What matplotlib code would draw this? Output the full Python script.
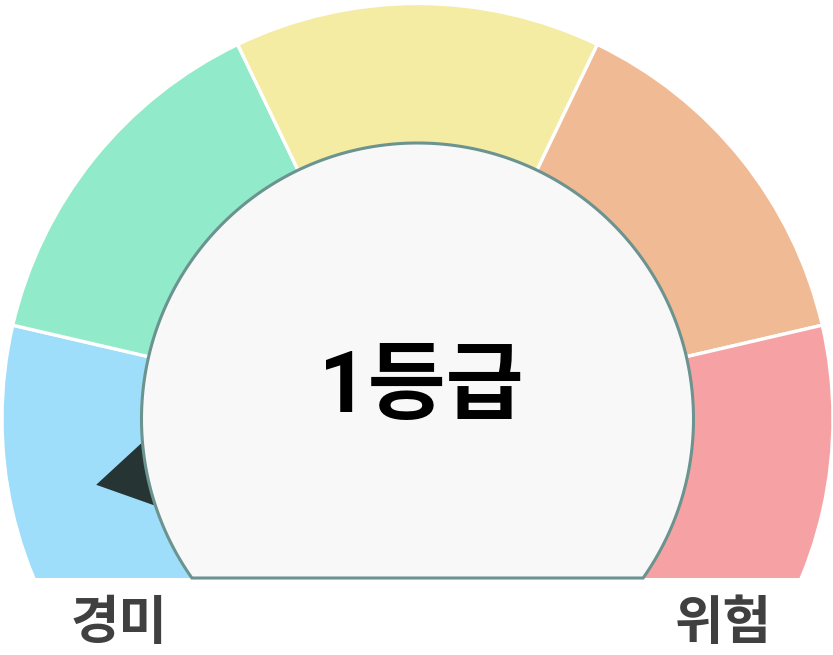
import numpy as np
import matplotlib
matplotlib.use('Agg')
import matplotlib.pyplot as plt
from matplotlib.patches import Wedge, Polygon, Rectangle

# gauge data
grade_text = '1등급'
min_label = '경미'
max_label = '위험'
segment_sizes = [1, 1, 1, 1, 1]
segment_colors = ['#9EDEFA', '#91EBCB', '#F4ECA3', '#F0BA94', '#F6A2A5']
needle_value = 10.4   # on a 0-100 scale
value_max = 100

W, H = 833, 655
CX, CY = 417.5, H - 419
R_OUT, R_IN = 414, 276
START_ANGLE = 218.25
SPAN = 256.5
Y_CUT = H - 578
FONTS = ['Roboto', 'Noto Sans CJK KR', 'DejaVu Sans']

fig = plt.figure(figsize=(W / 100, H / 100), dpi=100)
ax = fig.add_axes([0, 0, 1, 1])
ax.set_xlim(0, W)
ax.set_ylim(0, H)
ax.set_aspect('equal')
ax.axis('off')

# coloured band
total = sum(segment_sizes)
a = START_ANGLE
for size, col in zip(segment_sizes, segment_colors):
    sweep = SPAN * size / total
    ax.add_patch(Wedge((CX, CY), R_OUT + 1.5, a - sweep, a, width=R_OUT - R_IN + 10,
                       facecolor=col, edgecolor='white', linewidth=2.4, zorder=1))
    a -= sweep

# needle (mostly hidden behind the inner disc)
ang = np.deg2rad(START_ANGLE - SPAN * needle_value / value_max)
u = np.array([np.cos(ang), np.sin(ang)])
n = np.array([-u[1], u[0]])
c = np.array([CX, CY])
tip = c + u * 328
base = c + u * 240
ax.add_patch(Polygon([tip, base + n * 53, base - n * 53], closed=True,
                     facecolor='#263433', edgecolor='none', zorder=2))

# the gauge is cut flat at the bottom
ax.add_patch(Rectangle((0, 0), W, Y_CUT, facecolor='white', edgecolor='none', zorder=2.5))

# inner disc, flat at the bottom
dy = Y_CUT - CY
t0 = np.arcsin(dy / R_IN)
theta = np.linspace(t0, np.pi - t0, 400)
pts = np.column_stack([CX + R_IN * np.cos(theta), CY + R_IN * np.sin(theta)])
ax.add_patch(Polygon(pts, closed=True, facecolor='#F8F8F8', edgecolor='#6B9390',
                     linewidth=2.2, zorder=3))

ax.text(421, H - 389, grade_text, ha='center', va='center', fontsize=61,
        fontweight='bold', color='black', family=FONTS, zorder=4)
ax.text(119.5, H - 625, min_label, ha='center', va='center', fontsize=38,
        fontweight='bold', color='#404040', family=FONTS)
ax.text(723.5, H - 625, max_label, ha='center', va='center', fontsize=38,
        fontweight='bold', color='#404040', family=FONTS)

fig.savefig('out.png', dpi=100, facecolor='white')
